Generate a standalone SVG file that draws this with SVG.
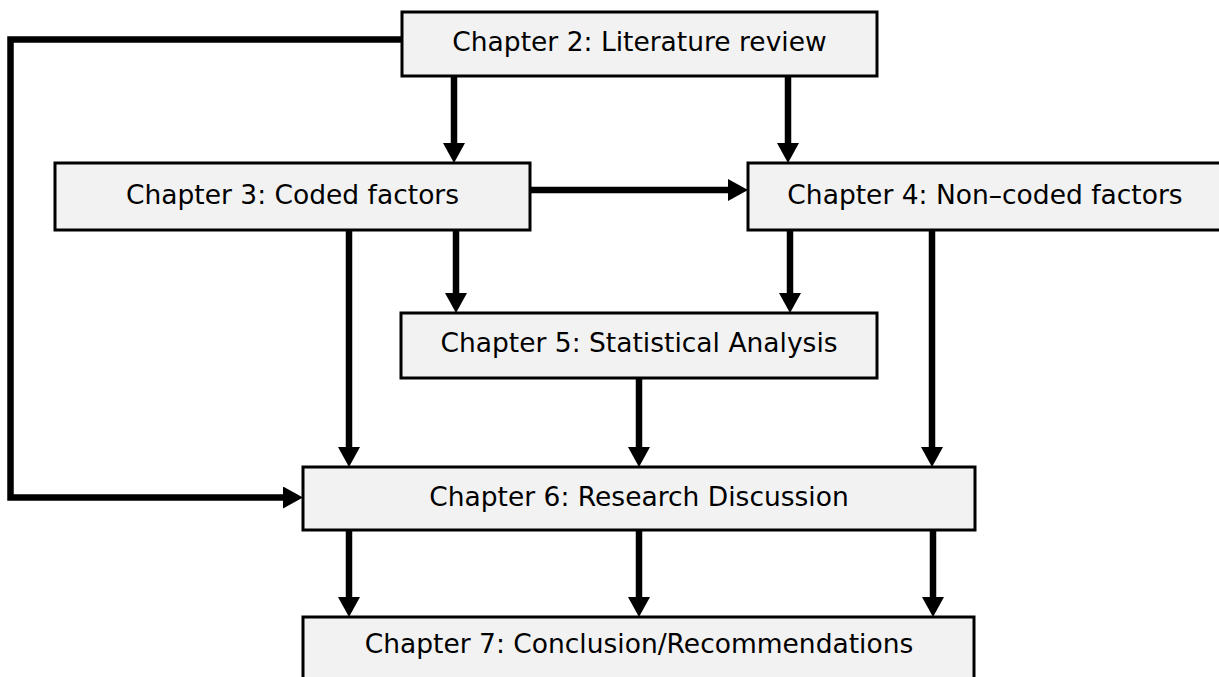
<svg xmlns="http://www.w3.org/2000/svg" width="1219" height="677" viewBox="0 0 1219 677">
  <defs>
    <style>
      .box { fill: #f2f2f2; stroke: #000; stroke-width: 3; }
      .lbl { font-family: "DejaVu Sans", "Liberation Sans", sans-serif; font-size: 26.5px; fill: #000; text-anchor: middle; }
      .link { fill: none; stroke: #000; stroke-width: 6.5; stroke-linejoin: miter; }
    </style>
    <marker id="arrow" markerUnits="userSpaceOnUse" markerWidth="22" markerHeight="22" refX="10" refY="11" orient="auto">
      <path d="M0,0 L20,11 L0,22 Z" fill="#000"/>
    </marker>
  </defs>

  <rect width="1219" height="677" fill="#fff"/>

  <g id="ch2">
    <rect class="box" x="402" y="12" width="475" height="64"/>
    <text class="lbl" x="639.5" y="51">Chapter 2: Literature review</text>
  </g>
  <g id="ch3">
    <rect class="box" x="55" y="163" width="475" height="67"/>
    <text class="lbl" x="292.5" y="204">Chapter 3: Coded factors</text>
  </g>
  <g id="ch4">
    <rect class="box" x="748" y="163" width="474" height="67"/>
    <text class="lbl" x="985" y="204">Chapter 4: Non–coded factors</text>
  </g>
  <g id="ch5">
    <rect class="box" x="401" y="313" width="476" height="65"/>
    <text class="lbl" x="639" y="352">Chapter 5: Statistical Analysis</text>
  </g>
  <g id="ch6">
    <rect class="box" x="303" y="467" width="672" height="63"/>
    <text class="lbl" x="639" y="506">Chapter 6: Research Discussion</text>
  </g>
  <g id="ch7">
    <rect class="box" x="303" y="617" width="671" height="75"/>
    <text class="lbl" x="639" y="653">Chapter 7: Conclusion/Recommendations</text>
  </g>

  <g id="connectors" class="links">
    <!-- literature review feeds both factor chapters -->
    <line class="link" x1="454" y1="76" x2="454" y2="153" marker-end="url(#arrow)"/>
    <line class="link" x1="788" y1="76" x2="788" y2="153" marker-end="url(#arrow)"/>
    <!-- coded to non-coded -->
    <line class="link" x1="530" y1="190" x2="738" y2="190" marker-end="url(#arrow)"/>
    <!-- factors into statistical analysis -->
    <line class="link" x1="456" y1="230" x2="456" y2="303" marker-end="url(#arrow)"/>
    <line class="link" x1="790" y1="230" x2="790" y2="303" marker-end="url(#arrow)"/>
    <!-- into research discussion -->
    <line class="link" x1="349" y1="230" x2="349" y2="457" marker-end="url(#arrow)"/>
    <line class="link" x1="639" y1="378" x2="639" y2="457" marker-end="url(#arrow)"/>
    <line class="link" x1="932" y1="230" x2="932" y2="457" marker-end="url(#arrow)"/>
    <polyline class="link" points="402,39.5 10.5,39.5 10.5,497.5 293,497.5" marker-end="url(#arrow)"/>
    <!-- discussion into conclusion -->
    <line class="link" x1="349" y1="530" x2="349" y2="607" marker-end="url(#arrow)"/>
    <line class="link" x1="639" y1="530" x2="639" y2="607" marker-end="url(#arrow)"/>
    <line class="link" x1="933" y1="530" x2="933" y2="607" marker-end="url(#arrow)"/>
  </g>
</svg>
